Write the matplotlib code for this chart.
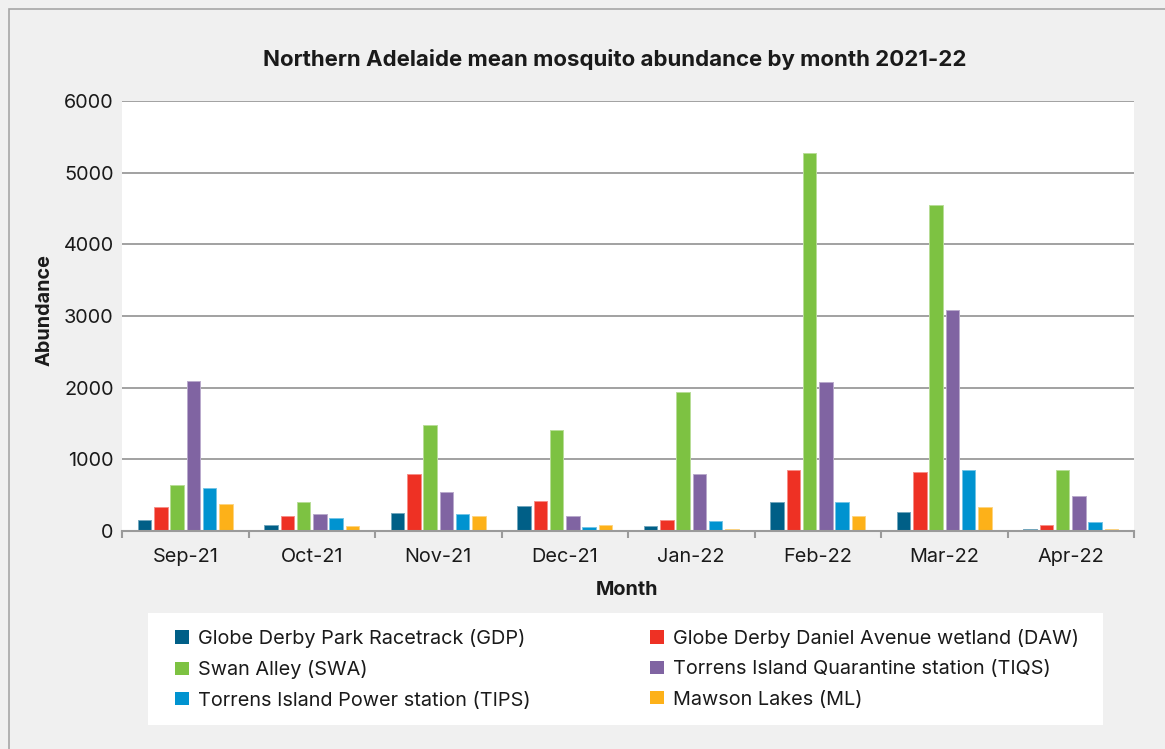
import matplotlib
matplotlib.use("Agg")
import matplotlib.pyplot as plt
from matplotlib.patches import Rectangle, Patch
from matplotlib.colors import to_rgb
import numpy as np

plt.rcParams['font.family'] = ['Inter', 'DejaVu Sans']

months = ["Sep-21", "Oct-21", "Nov-21", "Dec-21", "Jan-22", "Feb-22", "Mar-22", "Apr-22"]

gdp = [150, 85, 255, 345, 65, 400, 270, 28]
daw = [330, 215, 800, 420, 160, 850, 830, 85]
swa = [645, 400, 1485, 1415, 1935, 5280, 4550, 850]
tiqs = [2100, 235, 550, 215, 795, 2080, 3080, 495]
tips = [595, 180, 235, 50, 140, 400, 850, 130]
ml = [370, 65, 215, 85, 28, 215, 330, 28]

series_names = [
    "Globe Derby Park Racetrack (GDP)",
    "Globe Derby Daniel Avenue wetland (DAW)",
    "Swan Alley (SWA)",
    "Torrens Island Quarantine station (TIQS)",
    "Torrens Island Power station (TIPS)",
    "Mawson Lakes (ML)",
]
series_values = [gdp, daw, swa, tiqs, tips, ml]
colors = ["#005f87", "#ee3124", "#7dc242", "#8064a2", "#0093d0", "#fdb119"]

W, H = 1165, 749
fig = plt.figure(figsize=(W / 100, H / 100), dpi=100, facecolor="#f0f0f0")

# outer chart frame (top and left edges visible)
fig.patches.append(Rectangle((9 / W, -0.01), 1.02, 1 - 9 / H + 0.01,
                             transform=fig.transFigure, facecolor="none",
                             edgecolor="#a6a6a6", linewidth=1.2, zorder=0))

left, right, top, bottom = 122, 1134, 101, 531
ax = fig.add_axes([left / W, 1 - bottom / H, (right - left) / W, (bottom - top) / H])
ax.set_facecolor("white")

x = np.arange(len(months))
pitch = 0.129
width = 0.107


def lighten(c, f=0.45):
    r, g, b = to_rgb(c)
    return (r + (1 - r) * f, g + (1 - g) * f, b + (1 - b) * f)


for j, (vals, col) in enumerate(zip(series_values, colors)):
    ax.bar(x + (j - 2.5) * pitch, vals, width=width, color=col,
           edgecolor=lighten(col), linewidth=0.7, zorder=3)

ax.set_xlim(-0.5, len(months) - 0.5)
ax.set_ylim(0, 6000)
ax.set_yticks(np.arange(0, 6001, 1000))
ax.yaxis.grid(True, color="#9a9a9a", linewidth=1.3, zorder=1)
ax.set_axisbelow(True)

for s in ["top", "right", "left"]:
    ax.spines[s].set_visible(False)
ax.spines["bottom"].set_color("#9a9a9a")
ax.spines["bottom"].set_linewidth(1.5)
ax.spines["bottom"].set_zorder(4)

fs = 14.3
ax.tick_params(axis="y", length=0, pad=6, labelsize=fs, labelcolor="#1a1a1a")
ax.set_xticks(np.arange(-0.5, len(months), 1.0))
ax.set_xticklabels([])
ax.tick_params(axis="x", which="major", length=5, width=1.5, color="#9a9a9a")
ax.set_xticks(x, minor=True)
ax.set_xticklabels(months, minor=True)
ax.tick_params(axis="x", which="minor", length=0, pad=12, labelsize=fs, labelcolor="#1a1a1a")

fig.text(615 / W, 1 - 60 / H, "Northern Adelaide mean mosquito abundance by month 2021-22",
         ha="center", va="center", fontsize=16, fontweight="bold", color="#1a1a1a")
fig.text(627 / W, 1 - 590 / H, "Month", ha="center", va="center",
         fontsize=fs, fontweight="bold", color="#1a1a1a")
fig.text(45 / W, 1 - 310 / H, "Abundance", ha="center", va="center", rotation=90,
         fontsize=fs, fontweight="bold", color="#1a1a1a")

# legend panel
fig.patches.append(Rectangle((148 / W, 1 - 725 / H), (1103 - 148) / W, (725 - 613) / H,
                             transform=fig.transFigure, facecolor="white",
                             edgecolor="none", zorder=1))

handles = [Patch(facecolor=c, edgecolor="none") for c in colors]
leg_kw = dict(frameon=False, fontsize=fs, handlelength=0.68, handleheight=0.68,
              handletextpad=0.5, labelspacing=0.62, borderpad=0, borderaxespad=0,
              labelcolor="#1a1a1a", loc="upper left")
leg1 = fig.legend([handles[0], handles[2], handles[4]],
                  [series_names[0], series_names[2], series_names[4]],
                  bbox_to_anchor=(175 / W, 1 - 629 / H), **leg_kw)
leg2 = fig.legend([handles[1], handles[3], handles[5]],
                  [series_names[1], series_names[3], series_names[5]],
                  bbox_to_anchor=(650 / W, 1 - 629 / H), **leg_kw)
leg1.set_zorder(5)
leg2.set_zorder(5)

fig.savefig("out.png", dpi=100, facecolor=fig.get_facecolor())
